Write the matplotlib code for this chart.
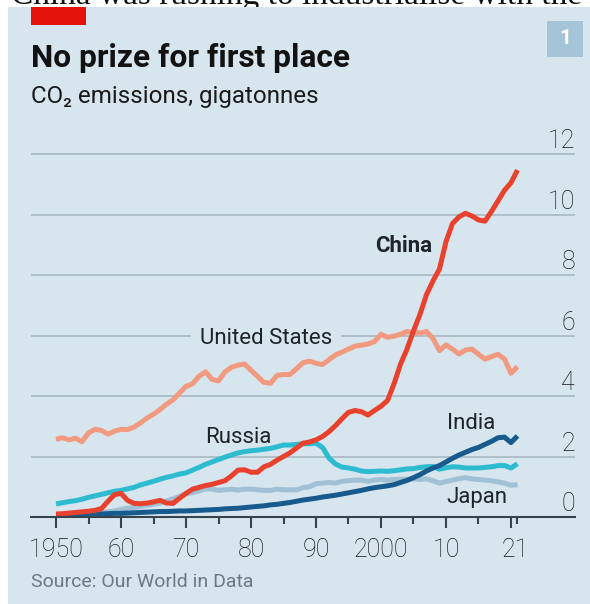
import matplotlib
matplotlib.use('Agg')
import matplotlib.pyplot as plt
from matplotlib.patches import Rectangle
from matplotlib import transforms

# CO2 emissions, gigatonnes, 1950-2021
years = list(range(1950, 2022))

china = [0.10, 0.11, 0.13, 0.15, 0.17, 0.19, 0.22, 0.28, 0.52, 0.74,
         0.78, 0.55, 0.45, 0.44, 0.46, 0.50, 0.55, 0.46, 0.45, 0.62,
         0.78, 0.92, 0.98, 1.04, 1.08, 1.14, 1.20, 1.36, 1.55, 1.56,
         1.48, 1.48, 1.66, 1.74, 1.88, 2.00, 2.12, 2.28, 2.44, 2.48,
         2.55, 2.66, 2.82, 3.02, 3.25, 3.46, 3.52, 3.48, 3.37, 3.52,
         3.66, 3.85, 4.40, 5.05, 5.55, 6.15, 6.70, 7.35, 7.80, 8.20,
         9.10, 9.70, 9.92, 10.04, 9.95, 9.82, 9.78, 10.10, 10.45, 10.80,
         11.05, 11.47]

usa = [2.57, 2.62, 2.55, 2.60, 2.49, 2.78, 2.90, 2.86, 2.74, 2.84,
       2.90, 2.89, 2.97, 3.11, 3.27, 3.40, 3.55, 3.73, 3.87, 4.10,
       4.32, 4.40, 4.65, 4.80, 4.55, 4.50, 4.80, 4.95, 5.02, 5.06,
       4.85, 4.65, 4.45, 4.42, 4.68, 4.71, 4.71, 4.90, 5.10, 5.15,
       5.08, 5.04, 5.20, 5.36, 5.45, 5.55, 5.65, 5.68, 5.72, 5.80,
       6.04, 5.94, 5.98, 6.04, 6.13, 6.10, 6.08, 6.13, 5.90, 5.50,
       5.69, 5.55, 5.39, 5.52, 5.55, 5.38, 5.22, 5.30, 5.38, 5.22,
       4.75, 4.97]

russia = [0.43, 0.47, 0.51, 0.54, 0.59, 0.65, 0.70, 0.75, 0.80, 0.85,
          0.88, 0.93, 0.98, 1.06, 1.12, 1.18, 1.25, 1.31, 1.36, 1.42,
          1.46, 1.55, 1.64, 1.74, 1.82, 1.90, 1.98, 2.05, 2.12, 2.16,
          2.19, 2.21, 2.24, 2.27, 2.32, 2.38, 2.38, 2.40, 2.42, 2.42,
          2.44, 2.30, 1.95, 1.75, 1.65, 1.62, 1.58, 1.52, 1.50, 1.51,
          1.52, 1.51, 1.53, 1.56, 1.59, 1.60, 1.64, 1.66, 1.67, 1.58,
          1.63, 1.66, 1.65, 1.62, 1.62, 1.62, 1.64, 1.66, 1.70, 1.70,
          1.62, 1.76]

japan = [0.05, 0.06, 0.07, 0.08, 0.09, 0.10, 0.12, 0.15, 0.17, 0.20,
         0.25, 0.29, 0.31, 0.35, 0.39, 0.42, 0.46, 0.53, 0.60, 0.68,
         0.78, 0.80, 0.86, 0.93, 0.92, 0.88, 0.90, 0.92, 0.89, 0.92,
         0.92, 0.90, 0.88, 0.88, 0.92, 0.90, 0.90, 0.90, 0.97, 1.00,
         1.10, 1.12, 1.14, 1.12, 1.18, 1.20, 1.22, 1.22, 1.18, 1.22,
         1.24, 1.22, 1.24, 1.25, 1.25, 1.26, 1.24, 1.26, 1.20, 1.12,
         1.17, 1.22, 1.27, 1.30, 1.26, 1.24, 1.22, 1.20, 1.16, 1.12,
         1.05, 1.07]

india = [0.06, 0.06, 0.07, 0.07, 0.08, 0.09, 0.09, 0.10, 0.11, 0.12,
         0.12, 0.13, 0.14, 0.15, 0.16, 0.17, 0.18, 0.18, 0.19, 0.20,
         0.20, 0.21, 0.22, 0.23, 0.24, 0.25, 0.27, 0.28, 0.29, 0.31,
         0.33, 0.35, 0.37, 0.40, 0.42, 0.45, 0.48, 0.52, 0.56, 0.59,
         0.62, 0.66, 0.69, 0.72, 0.76, 0.80, 0.84, 0.88, 0.93, 0.97,
         1.00, 1.03, 1.07, 1.14, 1.21, 1.30, 1.40, 1.52, 1.62, 1.70,
         1.82, 1.94, 2.05, 2.14, 2.23, 2.30, 2.40, 2.50, 2.62, 2.64,
         2.46, 2.68]

y_ticks = [0, 2, 4, 6, 8, 10, 12]
x_label_years = [1950, 1960, 1970, 1980, 1990, 2000, 2010, 2020.6]
x_labels = ['1950', '60', '70', '80', '90', '2000', '10', '21']
major_ticks = [1950, 1960, 1970, 1980, 1990, 2000, 2010, 2020]
minor_ticks = [1955, 1965, 1975, 1985, 1995, 2005, 2015, 2021]

BG = '#d6e5ee'
GRID = '#a9b9c4'
AXIS = '#36434d'
TEXT = '#1e2429'

W, H = 590, 604
def fx(px):
    return px / W
def fy(py):
    return 1 - py / H

fig = plt.figure(figsize=(W / 100, H / 100), dpi=100)
fig.patch.set_facecolor('white')

# bit of article text cut off above the panel
fig.text(fx(11), fy(4), 'China was rushing to industrialise with the',
         family='Liberation Serif', size=24, color='#111111', va='baseline', zorder=0.1)

fig.patches.append(Rectangle((fx(8), 0), 1 - fx(8), fy(7), transform=fig.transFigure,
                             facecolor=BG, edgecolor='none', zorder=0.5))
fig.patches.append(Rectangle((fx(31), fy(25)), 55 / W, 18 / H, transform=fig.transFigure,
                             facecolor='#e3120b', edgecolor='none', zorder=0.6))
fig.patches.append(Rectangle((fx(547), fy(57)), 36 / W, 36 / H, transform=fig.transFigure,
                             facecolor='#a6c4d8', edgecolor='none', zorder=0.6))
fig.text(fx(565), fy(39), '1', color='white', weight='bold', family='Roboto',
         size=15, ha='center', va='center', zorder=0.7)

fig.text(fx(31), fy(67), 'No prize for first place', family='Roboto', weight='bold',
         size=22.8, color='#121212', va='baseline', zorder=0.7)
fig.text(fx(31), fy(103), 'CO\u2082 emissions, gigatonnes', family=['Roboto', 'DejaVu Sans'],
         size=17.4, color='#1a1a1a', va='baseline', zorder=0.7)
fig.text(fx(31), fy(587), 'Source: Our World in Data', family='Roboto',
         size=14, color='#6d7982', va='baseline', zorder=0.7)

# axes: y=0 at pixel 517, 30.25 px per gigatonne; 6.5 px per year
ytop = 12.2
ax = fig.add_axes([fx(31), fy(517), 544 / W, ytop * 30.25 / H])
ax.set_zorder(1)
ax.patch.set_visible(False)
ax.set_xlim(1946.15, 2029.85)
ax.set_ylim(0, ytop)

for s in ['top', 'left', 'right']:
    ax.spines[s].set_visible(False)
ax.spines['bottom'].set_color(AXIS)
ax.spines['bottom'].set_linewidth(1.5)
ax.spines['bottom'].set_zorder(6)

ax.set_yticks(y_ticks[1:])
ax.yaxis.grid(True, color=GRID, lw=1.2)
ax.tick_params(axis='y', length=0, labelleft=False)
ax.set_axisbelow(True)

ax.set_xticks(major_ticks)
ax.set_xticks(minor_ticks, minor=True)
ax.tick_params(axis='x', which='major', direction='out', length=8, width=1.5,
               color=AXIS, labelbottom=False)
ax.tick_params(axis='x', which='minor', direction='out', length=5, width=1.5,
               color=AXIS, labelbottom=False)

tick_kw = dict(family='Roboto', weight='light', size=18, color='#15191c')
ylab_tr = transforms.offset_copy(ax.transData, fig=fig, x=0, y=4, units='points')
for v in y_ticks:
    ax.text(ax.get_xlim()[1], v, str(v), transform=ylab_tr, ha='right', va='baseline', **tick_kw)

xlab_tr = transforms.offset_copy(ax.get_xaxis_transform(), fig=fig, x=0, y=-28.5, units='points')
for yr, lab in zip(x_label_years, x_labels):
    ax.text(yr, 0, lab, transform=xlab_tr, ha='center', va='baseline', clip_on=False, **tick_kw)

lw = 3.6
ax.plot(years, japan, color='#a0c0d6', lw=lw, solid_joinstyle='round', solid_capstyle='butt', zorder=2)
ax.plot(years, usa, color='#f29a80', lw=lw, solid_joinstyle='round', solid_capstyle='butt', zorder=2.2)
ax.plot(years, russia, color='#2dbbd0', lw=lw, solid_joinstyle='round', solid_capstyle='butt', zorder=2.4)
ax.plot(years, india, color='#175a8d', lw=lw, solid_joinstyle='round', solid_capstyle='butt', zorder=2.6)
ax.plot(years, china, color='#e8412d', lw=lw, solid_joinstyle='round', solid_capstyle='butt', zorder=2.8)

lab_kw = dict(family='Roboto', size=16, color=TEXT, va='baseline')
ax.text(2003.5, 8.77, 'China', weight='bold', ha='center', **lab_kw)
ax.text(1972.15, 5.73, 'United States', ha='left', zorder=1.5,
        bbox=dict(boxstyle='square,pad=0.4', facecolor=BG, edgecolor='none'), **lab_kw)
ax.text(1972.9, 2.44, 'Russia', ha='left', **lab_kw)
ax.text(2010.15, 2.90, 'India', ha='left', **lab_kw)
ax.text(2010.0, 0.45, 'Japan', ha='left', **lab_kw)

fig.savefig('out.png', dpi=100, facecolor='white')
